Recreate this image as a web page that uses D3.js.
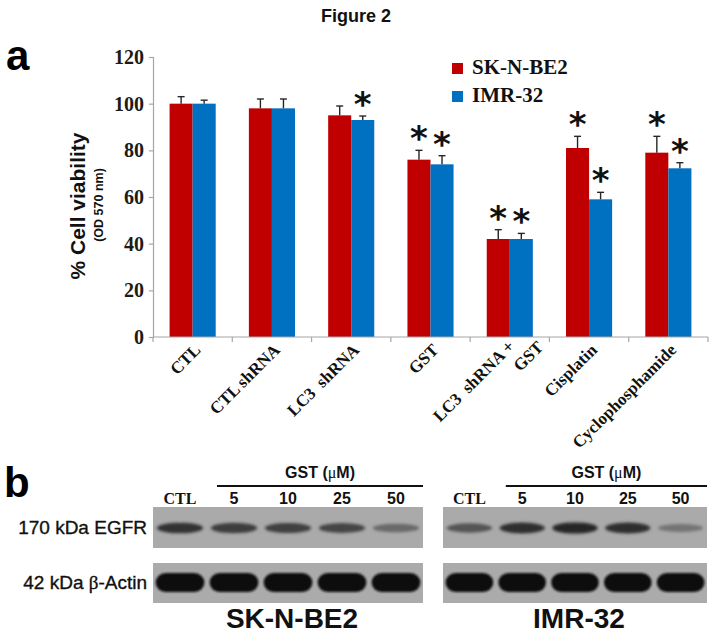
<!DOCTYPE html>
<html>
<head>
<meta charset="utf-8">
<script src="https://cdn.jsdelivr.net/npm/d3@7"></script>
<style>
  html, body { margin: 0; padding: 0; background: #fff; }
  svg { display: block; }
  text { white-space: pre; }
</style>
</head>
<body>
<div id="chart"></div>
<script>
// ---------- DATA ----------
const categories = ["CTL", "CTL shRNA", "LC3  shRNA", "GST", "LC3  shRNA +|GST", "Cisplatin", "Cyclophosphamide"];
const seriesNames = ["SK-N-BE2", "IMR-32"];
const sknValues = [100, 98, 95, 76, 42, 81, 79];
const sknErrors = [3, 4, 4, 4, 4, 5, 7];
const imrValues = [100, 98, 93, 74, 42, 59, 72.3];
const imrErrors = [1.5, 4, 1.7, 3.7, 2.4, 3, 2.4];
const sknSignificant = [0, 0, 0, 1, 1, 1, 1];
const imrSignificant = [0, 0, 1, 1, 1, 1, 1];
const yTicks = [0, 20, 40, 60, 80, 100, 120];

const blotLanes = ["CTL", "5", "10", "25", "50"];
const egfrSKN = [0.78, 0.72, 0.70, 0.66, 0.42];
const egfrIMR = [0.55, 0.80, 0.86, 0.80, 0.35];
const actinSKN = [1, 1, 1, 1, 1];
const actinIMR = [1, 1, 1, 1, 1];
const blotPanels = ["SK-N-BE2", "IMR-32"];

// ---------- SETUP ----------
const W = 719, H = 634;
const SERIF = "'Liberation Serif', 'Times New Roman', serif";
const SANS = "'Liberation Sans', Arial, sans-serif";
const RED = "#c00000", BLUE = "#0070c0";

const svg = d3.select("#chart").append("svg")
  .attr("width", W).attr("height", H);

const defs = svg.append("defs");
defs.append("filter").attr("id", "blurS").attr("x", "-20%").attr("y", "-80%").attr("width", "140%").attr("height", "260%")
  .append("feGaussianBlur").attr("stdDeviation", 1.5);
defs.append("filter").attr("id", "blurA").attr("x", "-20%").attr("y", "-60%").attr("width", "140%").attr("height", "220%")
  .append("feGaussianBlur").attr("stdDeviation", 1.1);

// Title and panel letters
svg.append("text").attr("x", 356).attr("y", 22).attr("text-anchor", "middle")
  .style("font-family", SANS).style("font-weight", "bold").style("font-size", "18px").attr("fill", "#111")
  .text("Figure 2");
svg.append("text").attr("x", 6).attr("y", 70)
  .style("font-family", SANS).style("font-weight", "bold").style("font-size", "42px").attr("fill", "#000")
  .text("a");
svg.append("text").attr("x", 4).attr("y", 497)
  .style("font-family", SANS).style("font-weight", "bold").style("font-size", "42px").attr("fill", "#000")
  .text("b");

// ---------- BAR CHART ----------
const x0 = d3.scaleBand().domain(categories).range([153, 708]).padding(0);
const x1 = d3.scaleBand().domain(seriesNames).range([0, x0.bandwidth()]).paddingInner(0).paddingOuter(0.72);
const y = d3.scaleLinear().domain([0, 120]).range([337, 57]);
const color = d3.scaleOrdinal().domain(seriesNames).range([RED, BLUE]);

const rows = categories.map((c, i) => ({
  cat: c,
  vals: [
    { s: seriesNames[0], v: sknValues[i], e: sknErrors[i], sig: sknSignificant[i] },
    { s: seriesNames[1], v: imrValues[i], e: imrErrors[i], sig: imrSignificant[i] }
  ]
}));

// Y axis
const yAxis = svg.append("g").attr("transform", "translate(153,0)")
  .call(d3.axisLeft(y).tickValues(yTicks).tickSize(4).tickPadding(5).tickFormat(d3.format("d")));
yAxis.select(".domain").attr("stroke", "#a6a6a6").attr("stroke-width", 1.2);
yAxis.selectAll(".tick line").attr("stroke", "#a6a6a6").attr("stroke-width", 1.2);
yAxis.selectAll(".tick text")
  .style("font-family", SERIF).style("font-weight", "bold").style("font-size", "20px").attr("fill", "#1f1a14");

// bars
const groups = svg.append("g").selectAll("g").data(rows).join("g")
  .attr("transform", d => `translate(${x0(d.cat)},0)`);

groups.selectAll("rect").data(d => d.vals).join("rect")
  .attr("x", d => x1(d.s)).attr("width", x1.bandwidth())
  .attr("y", d => y(d.v)).attr("height", d => y(0) - y(d.v))
  .attr("fill", d => color(d.s));

// error bars (upper only)
const eb = groups.selectAll("g.err").data(d => d.vals).join("g").attr("class", "err");
eb.append("line")
  .attr("x1", d => x1(d.s) + x1.bandwidth() / 2).attr("x2", d => x1(d.s) + x1.bandwidth() / 2)
  .attr("y1", d => y(d.v)).attr("y2", d => y(d.v + d.e))
  .attr("stroke", "#262626").attr("stroke-width", 1.4);
eb.append("line")
  .attr("x1", d => x1(d.s) + x1.bandwidth() / 2 - 3.5).attr("x2", d => x1(d.s) + x1.bandwidth() / 2 + 3.5)
  .attr("y1", d => y(d.v + d.e)).attr("y2", d => y(d.v + d.e))
  .attr("stroke", "#262626").attr("stroke-width", 1.4);

// asterisks
groups.selectAll("text.star").data(d => d.vals.filter(v => v.sig)).join("text").attr("class", "star")
  .attr("x", d => x1(d.s) + x1.bandwidth() / 2)
  .attr("y", d => y(d.v + d.e) + 0)
  .attr("text-anchor", "middle")
  .style("font-family", "'DejaVu Sans', sans-serif").style("font-weight", "bold").style("font-size", "34px").attr("fill", "#111")
  .text("*");

// X axis
svg.append("line").attr("x1", 153).attr("x2", 708).attr("y1", y(0)).attr("y2", y(0))
  .attr("stroke", "#a6a6a6").attr("stroke-width", 1.2);
const bounds = categories.map(c => x0(c)).concat([x0.range()[1]]);
svg.append("g").selectAll("line").data(bounds).join("line")
  .attr("x1", d => d).attr("x2", d => d).attr("y1", y(0)).attr("y2", y(0) + 5)
  .attr("stroke", "#a6a6a6").attr("stroke-width", 1.2);

// X labels
const xl = svg.append("g").selectAll("text").data(categories).join("text")
  .attr("transform", c => `translate(${x0(c) + x0.bandwidth() / 2 + 9},351) rotate(-45)`)
  .attr("text-anchor", "end")
  .style("font-family", SERIF).style("font-weight", "bold").style("font-size", "17px").attr("fill", "#111");
xl.each(function (c) {
  const parts = c.split("|");
  const t = d3.select(this);
  if (parts.length === 1) {
    t.text(c);
  } else {
    t.append("tspan").attr("x", 0).attr("dy", -5).text(parts[0]);
    t.append("tspan").attr("x", 20).attr("dy", 21).text(parts[1]);
  }
});

// Y title
svg.append("text").attr("transform", "translate(85,206) rotate(-90)").attr("text-anchor", "middle")
  .style("font-family", SANS).style("font-weight", "bold").style("font-size", "21px").attr("fill", "#111")
  .text("% Cell viability");
svg.append("text").attr("transform", "translate(103,205) rotate(-90)").attr("text-anchor", "middle")
  .style("font-family", SANS).style("font-weight", "bold").style("font-size", "12.5px").attr("fill", "#111")
  .text("(OD 570 nm)");

// Legend
const lg = svg.append("g").selectAll("g").data(seriesNames).join("g")
  .attr("transform", (d, i) => `translate(452,${63 + i * 28})`);
lg.append("rect").attr("width", 11).attr("height", 11).attr("fill", d => color(d));
lg.append("text").attr("x", 20).attr("y", 11)
  .style("font-family", SERIF).style("font-weight", "bold").style("font-size", "21px").attr("fill", "#111")
  .text(d => d);

// ---------- WESTERN BLOT ----------
const panelX = d3.scaleOrdinal().domain(blotPanels).range([[153, 423], [443, 707]]);
const egfrData = { "SK-N-BE2": egfrSKN, "IMR-32": egfrIMR };
const actinData = { "SK-N-BE2": actinSKN, "IMR-32": actinIMR };
const bandShade = d3.interpolateRgb("#a9a9a9", "#111111");

blotPanels.forEach(p => {
  const [xa, xb] = panelX(p);
  const lx = d3.scaleBand().domain(blotLanes).range([xa, xb]).padding(0);
  const g = svg.append("g");
  // boxes
  g.append("rect").attr("x", xa).attr("y", 507).attr("width", xb - xa).attr("height", 41).attr("fill", "#aaaaaa");
  g.append("rect").attr("x", xa).attr("y", 563).attr("width", xb - xa).attr("height", 40).attr("fill", "#ababab");
  // EGFR bands
  g.selectAll("ellipse.egfr").data(egfrData[p]).join("ellipse").attr("class", "egfr")
    .attr("cx", (d, i) => lx(blotLanes[i]) + lx.bandwidth() / 2)
    .attr("rx", lx.bandwidth() * 0.43)
    .attr("cy", 528).attr("ry", d => 3 + d * 3)
    .attr("fill", d => bandShade(d)).attr("filter", "url(#blurS)");
  // Actin bands
  g.selectAll("rect.actin").data(actinData[p]).join("rect").attr("class", "actin")
    .attr("x", (d, i) => lx(blotLanes[i]) + lx.bandwidth() * 0.05)
    .attr("width", lx.bandwidth() * 0.9)
    .attr("y", 573).attr("height", 19)
    .attr("rx", 10).attr("ry", 9).attr("fill", d => bandShade(d)).attr("filter", "url(#blurA)");
  // lane labels
  g.selectAll("text.lane").data(blotLanes).join("text").attr("class", "lane")
    .attr("x", d => lx(d) + lx.bandwidth() / 2).attr("y", 504).attr("text-anchor", "middle")
    .style("font-family", d => d === "CTL" ? SERIF : SANS)
    .style("font-weight", "bold").style("font-size", "16px").attr("fill", "#111")
    .text(d => d);
  // GST line + label
  const l0 = lx(blotLanes[1]) + 10;
  g.append("line").attr("x1", l0).attr("x2", xb).attr("y1", 486).attr("y2", 486)
    .attr("stroke", "#111").attr("stroke-width", 2);
  const gt = g.append("text").attr("x", (l0 + xb) / 2).attr("y", 478).attr("text-anchor", "middle")
    .style("font-family", SANS).style("font-weight", "bold").style("font-size", "16px").attr("fill", "#111");
  gt.append("tspan").text("GST (");
  gt.append("tspan").style("font-family", SERIF).style("font-weight", "normal").text("μ");
  gt.append("tspan").text("M)");
  // cell line name
  g.append("text").attr("x", (xa + xb) / 2 + 4).attr("y", 628).attr("text-anchor", "middle")
    .style("font-family", SANS).style("font-weight", "bold").style("font-size", "28px").attr("fill", "#111")
    .text(p);
});

// Row labels
svg.append("text").attr("x", 147).attr("y", 534).attr("text-anchor", "end")
  .style("font-family", SANS).style("font-size", "19px").attr("fill", "#111")
  .attr("stroke", "#111").attr("stroke-width", 0.35)
  .text("170 kDa EGFR");
const al = svg.append("text").attr("x", 147).attr("y", 589).attr("text-anchor", "end")
  .style("font-family", SANS).style("font-size", "19px").attr("fill", "#111")
  .attr("stroke", "#111").attr("stroke-width", 0.35);
al.append("tspan").text("42 kDa ");
al.append("tspan").style("font-family", SERIF).text("β");
al.append("tspan").text("-Actin");
</script>
</body>
</html>
